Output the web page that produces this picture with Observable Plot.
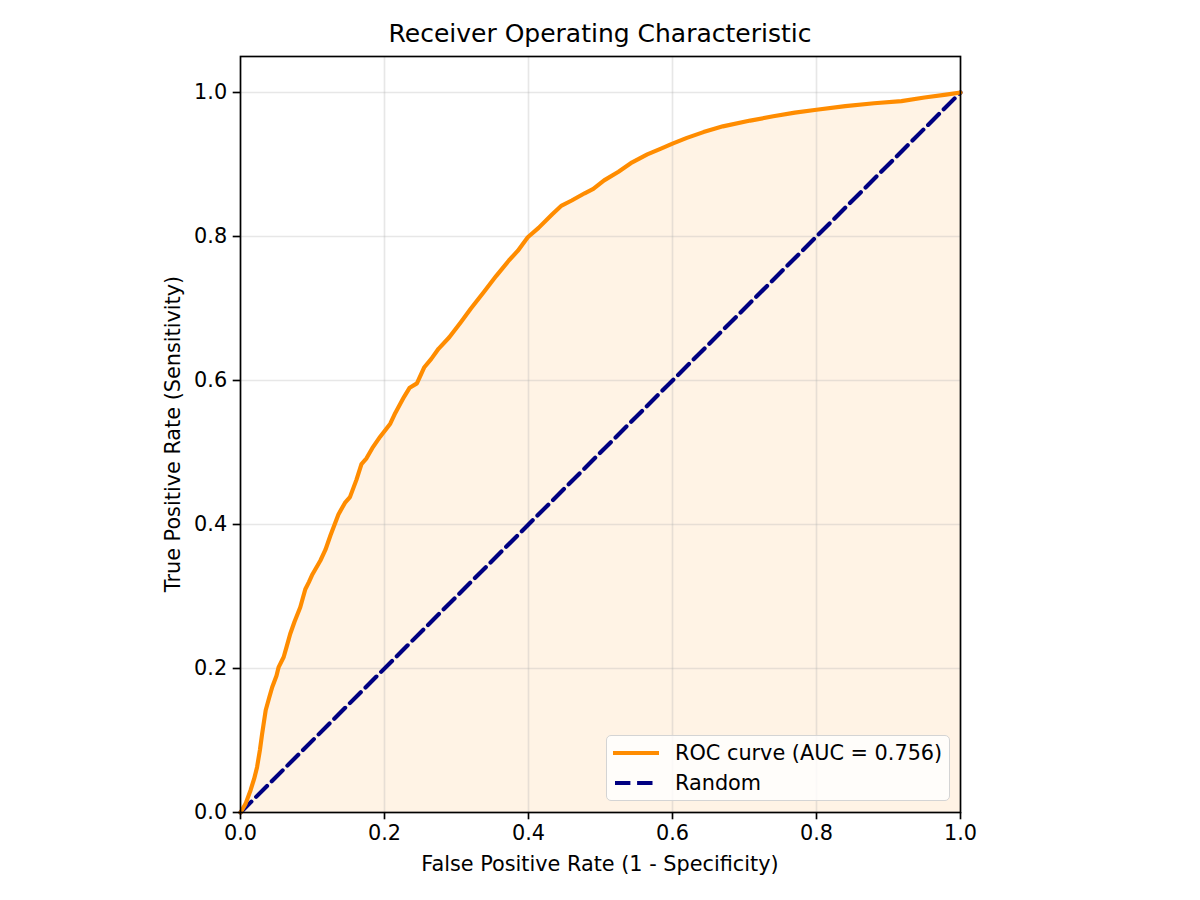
<!DOCTYPE html>
<html>
<head>
<meta charset="utf-8">
<script src="https://cdn.jsdelivr.net/npm/d3@7"></script>
<script src="https://cdn.jsdelivr.net/npm/@observablehq/plot@0.6"></script>
<style>
  html, body { margin: 0; padding: 0; background: #fff; }
  #wrap { position: relative; width: 1200px; height: 900px; font-family: "DejaVu Sans", sans-serif; color: #000; }
  #title { position: absolute; left: 0; width: 1200px; top: 19px; text-align: center; font-size: 25px; line-height: 30px; }
  #xlabel { position: absolute; left: 0; width: 1200px; top: 851px; text-align: center; font-size: 20.8px; line-height: 26px; }
  #ylabel { position: absolute; left: 173px; top: 434px; transform: translate(-50%, -50%) rotate(-90deg); white-space: nowrap; font-size: 20.8px; line-height: 26px; }
  #legend { position: absolute; left: 606px; top: 735px; width: 344px; height: 66px; box-sizing: border-box;
            border: 1.5px solid #d4d4d4; border-radius: 5px; background: rgba(255,255,255,0.8); font-size: 20.8px; }
  .row { position: absolute; left: 6px; height: 26px; display: flex; align-items: center; white-space: nowrap; }
  .row svg { width: 46px; height: 10px; margin-right: 16px; }
  #plot { position: absolute; left: 0; top: 0; }
</style>
</head>
<body>
<div id="wrap">
  <div id="plot"></div>
  <div id="title"></div>
  <div id="xlabel"></div>
  <div id="ylabel"></div>
  <div id="legend"></div>
</div>
<script>
const titleText = "Receiver Operating Characteristic";
const xLabel = "False Positive Rate (1 - Specificity)";
const yLabel = "True Positive Rate (Sensitivity)";
const rocLabel = "ROC curve (AUC = 0.756)";
const randomLabel = "Random";

const xTicks = [0, 0.2, 0.4, 0.6, 0.8, 1.0];
const yTicks = [0, 0.2, 0.4, 0.6, 0.8, 1.0];

const fpr = [0,0.007,0.014,0.019,0.023,0.027,0.030,0.035,0.040,0.044,0.050,0.053,0.060,0.064,0.069,0.075,0.083,0.090,0.095,0.100,
  0.111,0.118,0.125,0.136,0.145,0.152,0.161,0.168,0.175,0.183,0.194,0.208,0.215,0.227,0.235,0.245,0.255,0.265,0.275,0.290,
  0.306,0.320,0.338,0.355,0.373,0.385,0.399,0.414,0.433,0.446,0.460,0.478,0.490,0.505,0.525,0.544,0.565,0.584,0.600,0.620,
  0.643,0.670,0.708,0.740,0.770,0.800,0.840,0.880,0.918,0.950,0.980,1.0];
const tpr = [0,0.012,0.031,0.047,0.063,0.087,0.109,0.142,0.160,0.174,0.190,0.202,0.216,0.230,0.248,0.265,0.285,0.310,0.320,0.331,
  0.350,0.365,0.385,0.414,0.430,0.438,0.462,0.484,0.492,0.506,0.522,0.540,0.555,0.577,0.590,0.596,0.618,0.630,0.644,0.660,
  0.681,0.700,0.723,0.745,0.767,0.780,0.799,0.812,0.831,0.843,0.850,0.860,0.866,0.878,0.890,0.903,0.914,0.922,0.929,0.937,
  0.945,0.953,0.961,0.967,0.972,0.976,0.981,0.985,0.988,0.993,0.997,1.0];
const randomX = [0, 1];
const randomY = [0, 1];

const roc = fpr.map((x, i) => ({x, y: tpr[i]}));
const diag = randomX.map((x, i) => ({x, y: randomY[i]}));

const ORANGE = "#ff8c00", NAVY = "#000080";
const fmt = d3.format(".1f");

const chart = Plot.plot({
  width: 1200, height: 900,
  marginLeft: 240, marginRight: 240, marginTop: 56, marginBottom: 88,
  style: {fontFamily: "DejaVu Sans, sans-serif", fontSize: "20.8px", color: "#000", background: "transparent", overflow: "visible"},
  x: {domain: [0, 1]},
  y: {domain: [0, 1.05]},
  marks: [
    Plot.areaY(roc, {x: "x", y: "y", fill: ORANGE, fillOpacity: 0.1}),
    Plot.gridX({ticks: xTicks, stroke: "#b0b0b0", strokeOpacity: 0.3, strokeWidth: 1.67}),
    Plot.gridY({ticks: yTicks, stroke: "#b0b0b0", strokeOpacity: 0.3, strokeWidth: 1.67}),
    Plot.line(diag, {x: "x", y: "y", stroke: NAVY, strokeWidth: 4.17, strokeDasharray: "15.4,6.7"}),
    Plot.line(roc, {x: "x", y: "y", stroke: ORANGE, strokeWidth: 4.17, strokeLinejoin: "round"}),
    Plot.axisX({ticks: xTicks, tickFormat: fmt, tickSize: 7.3, tickPadding: 5, strokeWidth: 1.67, label: null}),
    Plot.axisY({ticks: yTicks, tickFormat: fmt, tickSize: 7.3, tickPadding: 6, strokeWidth: 1.67, label: null}),
    Plot.frame({stroke: "#000", strokeWidth: 1.67})
  ]
});
document.getElementById("plot").appendChild(chart);

document.getElementById("title").textContent = titleText;
document.getElementById("xlabel").textContent = xLabel;
document.getElementById("ylabel").textContent = yLabel;

const legend = document.getElementById("legend");
legend.innerHTML = `
  <div class="row" style="top:4px"><svg viewBox="0 0 46 10"><line x1="0" x2="46" y1="5" y2="5" stroke="${ORANGE}" stroke-width="4.17"/></svg><span>${rocLabel}</span></div>
  <div class="row" style="top:34px"><svg viewBox="0 0 46 10"><line x1="2" x2="46" y1="5" y2="5" stroke="${NAVY}" stroke-width="4.17" stroke-dasharray="15.4,6.7"/></svg><span>${randomLabel}</span></div>`;
</script>
</body>
</html>
